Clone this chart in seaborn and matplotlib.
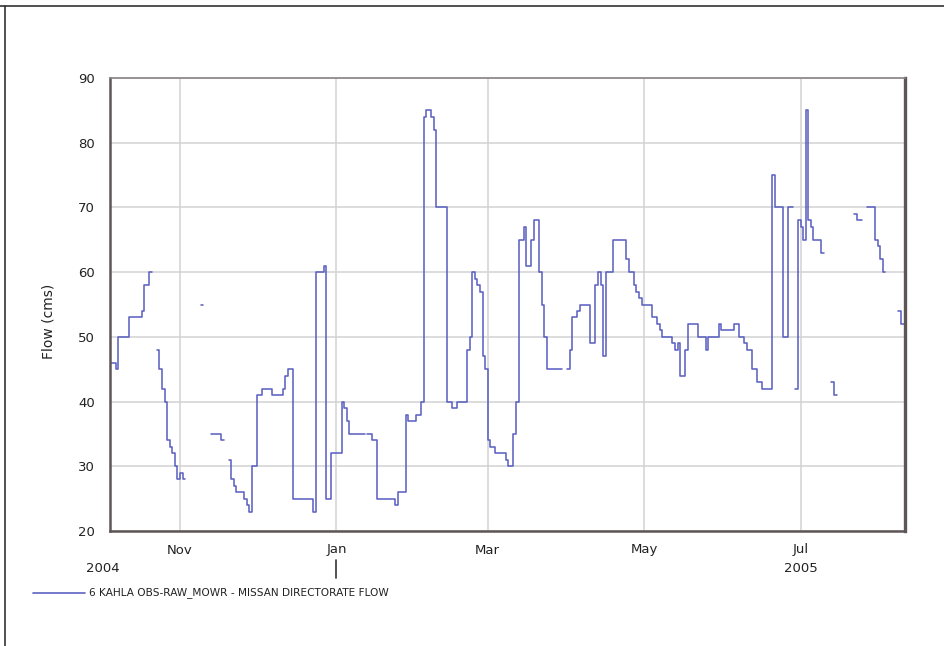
import numpy as np
import pandas as pd
import matplotlib
matplotlib.use("Agg")
import matplotlib.pyplot as plt
import matplotlib.dates as mdates
import matplotlib.transforms as mtransforms
from matplotlib.lines import Line2D
import seaborn as sns

# Step changes of the gauged flow (cms); NaN closes a stretch of record before a gap
step_dates = [
    "2004-10-05", "2004-10-07", "2004-10-08", "2004-10-12", "2004-10-17", "2004-10-18",
    "2004-10-20", "2004-10-21",
    "2004-10-23", "2004-10-24", "2004-10-25", "2004-10-26", "2004-10-27", "2004-10-28",
    "2004-10-29", "2004-10-30", "2004-10-31", "2004-11-01", "2004-11-02", "2004-11-03",
    "2004-11-09", "2004-11-10",
    "2004-11-13", "2004-11-17", "2004-11-18",
    "2004-11-20", "2004-11-21", "2004-11-22", "2004-11-23", "2004-11-26", "2004-11-27",
    "2004-11-28", "2004-11-29", "2004-12-01", "2004-12-03", "2004-12-07", "2004-12-11",
    "2004-12-12", "2004-12-13", "2004-12-15", "2004-12-23", "2004-12-24", "2004-12-27",
    "2004-12-28", "2004-12-30", "2005-01-03", "2005-01-04", "2005-01-05", "2005-01-06",
    "2005-01-12",
    "2005-01-13", "2005-01-15", "2005-01-17", "2005-01-24", "2005-01-25", "2005-01-28",
    "2005-01-29", "2005-02-01", "2005-02-03", "2005-02-04", "2005-02-05", "2005-02-07",
    "2005-02-08", "2005-02-09", "2005-02-13", "2005-02-15", "2005-02-17", "2005-02-21",
    "2005-02-22", "2005-02-23", "2005-02-24", "2005-02-25", "2005-02-26", "2005-02-27",
    "2005-02-28", "2005-03-01", "2005-03-02", "2005-03-04", "2005-03-08", "2005-03-09",
    "2005-03-11", "2005-03-12", "2005-03-13", "2005-03-15", "2005-03-16", "2005-03-18",
    "2005-03-19", "2005-03-21", "2005-03-22", "2005-03-23", "2005-03-24", "2005-03-30",
    "2005-04-01", "2005-04-02", "2005-04-03", "2005-04-05", "2005-04-06", "2005-04-10",
    "2005-04-12", "2005-04-13", "2005-04-14", "2005-04-15", "2005-04-16", "2005-04-19",
    "2005-04-24", "2005-04-25", "2005-04-27", "2005-04-28", "2005-04-29", "2005-04-30",
    "2005-05-04", "2005-05-06", "2005-05-07", "2005-05-08", "2005-05-12", "2005-05-13",
    "2005-05-14", "2005-05-15", "2005-05-17", "2005-05-18", "2005-05-22", "2005-05-25",
    "2005-05-26", "2005-05-30", "2005-05-31", "2005-06-05", "2005-06-07", "2005-06-09",
    "2005-06-10", "2005-06-12", "2005-06-14", "2005-06-16", "2005-06-20", "2005-06-21",
    "2005-06-24", "2005-06-26", "2005-06-28",
    "2005-06-29", "2005-06-30", "2005-07-01", "2005-07-02", "2005-07-03", "2005-07-04",
    "2005-07-05", "2005-07-06", "2005-07-09", "2005-07-10",
    "2005-07-13", "2005-07-14", "2005-07-15",
    "2005-07-22", "2005-07-23", "2005-07-25",
    "2005-07-27", "2005-07-30", "2005-07-31", "2005-08-01", "2005-08-02", "2005-08-03",
    "2005-08-08", "2005-08-09", "2005-08-11",
]
step_flow = [
    46, 45, 50, 53, 54, 58,
    60, np.nan,
    48, 45, 42, 40, 34, 33,
    32, 30, 28, 29, 28, np.nan,
    55, np.nan,
    35, 34, np.nan,
    31, 28, 27, 26, 25, 24,
    23, 30, 41, 42, 41, 42,
    44, 45, 25, 23, 60, 61,
    25, 32, 40, 39, 37, 35,
    np.nan,
    35, 34, 25, 24, 26, 38,
    37, 38, 40, 84, 85, 84,
    82, 70, 40, 39, 40, 48,
    50, 60, 59, 58, 57, 47,
    45, 34, 33, 32, 31, 30,
    35, 40, 65, 67, 61, 65,
    68, 60, 55, 50, 45, np.nan,
    45, 48, 53, 54, 55, 49,
    58, 60, 58, 47, 60, 65,
    62, 60, 58, 57, 56, 55,
    53, 52, 51, 50, 49, 48,
    49, 44, 48, 52, 50, 48,
    50, 52, 51, 52, 50, 49,
    48, 45, 43, 42, 75, 70,
    50, 70, np.nan,
    42, 68, 67, 65, 85, 68,
    67, 65, 63, np.nan,
    43, 41, np.nan,
    69, 68, np.nan,
    70, 65, 64, 62, 60, np.nan,
    54, 52, np.nan,
]

series_label = "6 KAHLA OBS-RAW_MOWR - MISSAN DIRECTORATE FLOW"
y_ticks = [20, 30, 40, 50, 60, 70, 80, 90]
x_start, x_end = "2004-10-04 17:00", "2005-08-10 17:00"

# Split the record into continuous stretches; each NaN becomes the closing point
df = pd.DataFrame({"date": pd.to_datetime(step_dates), "flow": step_flow})
gap = df["flow"].isna()
df["segment"] = gap.shift(fill_value=False).cumsum()
df["flow"] = df["flow"].ffill()

line_color = "#5c62c2"
spine_color = "#5e5656"
text_color = "#222222"

sns.set_style("white")
fig = plt.figure(figsize=(9.45, 6.46), dpi=100)
ax = fig.add_axes([110 / 945, 115 / 646, 795 / 945, 453 / 646])

sns.lineplot(data=df, x="date", y="flow", units="segment", estimator=None,
             drawstyle="steps-post", color=line_color, linewidth=1.15,
             legend=False, ax=ax, sort=False)

ax.set_xlim(pd.Timestamp(x_start), pd.Timestamp(x_end))
ax.set_ylim(20, 90)
ax.set_yticks(y_ticks)
ax.xaxis.set_major_locator(mdates.MonthLocator(bymonth=[1, 3, 5, 7, 11]))
ax.xaxis.set_major_formatter(mdates.DateFormatter("%b"))
ax.set_xlabel("")
ax.set_ylabel("")

ax.grid(True, color="#d2d2d2", linewidth=1.1)
ax.set_axisbelow(True)
ax.tick_params(axis="both", direction="out", length=6, width=1.2, color=spine_color,
               labelsize=9.5, labelcolor=text_color, pad=3)
ax.tick_params(axis="y", length=8)

for side in ["left", "bottom"]:
    ax.spines[side].set_color(spine_color)
    ax.spines[side].set_linewidth(1.8)
ax.spines["right"].set_color(spine_color)
ax.spines["right"].set_linewidth(2.4)
ax.spines["top"].set_color("#8a8484")
ax.spines["top"].set_linewidth(1.2)

# Year labels under the month ticks and the year-boundary mark at January
xtrans = mtransforms.blended_transform_factory(ax.transData, ax.transAxes)
ax.text(pd.Timestamp("2004-10-02"), -0.082, "2004", transform=xtrans,
        ha="center", va="center", fontsize=9.5, color=text_color)
ax.text(pd.Timestamp("2005-07-01"), -0.082, "2005", transform=xtrans,
        ha="center", va="center", fontsize=9.5, color=text_color)
ax.add_line(Line2D([mdates.date2num(pd.Timestamp("2005-01-01"))] * 2, [-0.064, -0.104],
                   transform=xtrans, color="#333333", linewidth=1.2, clip_on=False))

fig.text(49 / 945, 1 - 321 / 646, "Flow (cms)", rotation=90, ha="center", va="center",
         fontsize=10, color=text_color)

# Legend row below the plot
fig.add_artist(Line2D([33 / 945, 85 / 945], [1 - 593 / 646] * 2, color=line_color,
                      linewidth=1.2, transform=fig.transFigure))
fig.text(89 / 945, 1 - 593 / 646, series_label, ha="left", va="center",
         fontsize=7.6, color=text_color)

# Outer frame: top rule and left rule
fig.add_artist(Line2D([0, 1], [1 - 6 / 646] * 2, color="#333333", linewidth=1.2,
                      transform=fig.transFigure))
fig.add_artist(Line2D([4.5 / 945] * 2, [0, 1 - 6 / 646], color="#333333", linewidth=1.2,
                      transform=fig.transFigure))

fig.savefig("out.png", dpi=100)
